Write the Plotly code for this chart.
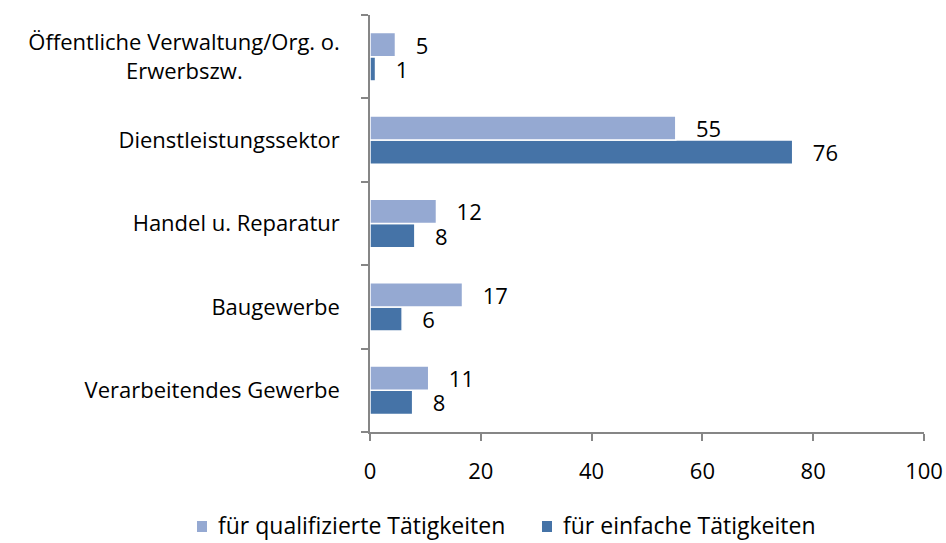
import plotly.graph_objects as go

# Categories listed bottom-to-top
categories = [
    "Verarbeitendes Gewerbe",
    "Baugewerbe",
    "Handel u. Reparatur",
    "Dienstleistungssektor",
    "Öffentliche Verwaltung/Org. o.<br>Erwerbszw." + "\u00a0" * 17,
]
qualifiziert = [10.6, 16.7, 12.0, 55.2, 4.6]
einfach = [7.7, 5.8, 8.1, 76.3, 1.0]

series_names = ["für qualifizierte Tätigkeiten", "für einfache Tätigkeiten"]
colors = ["#95A9D2", "#4573A7"]
x_ticks = [0, 20, 40, 60, 80, 100]

FONT = "Open Sans"
FS = 22
pad = "\u00a0\u00a0\u00a0"

W, H = 946, 543
ML, MR, MT, MB = 370, 22, 15, 111
PW, PH = W - ML - MR, H - MT - MB


def px_x(px):
    return (px - ML) / PW


def px_y(py):
    return (H - MB - py) / PH


fig = go.Figure()
fig.add_trace(go.Bar(
    y=categories, x=einfach, orientation="h", name=series_names[1],
    marker=dict(color=colors[1], line=dict(color="white", width=1.5)),
    text=[f"{pad}{v:.0f}" for v in einfach], textposition="outside",
    textfont=dict(size=FS, color="black", family=FONT), constraintext="none",
    cliponaxis=False, showlegend=False,
))
fig.add_trace(go.Bar(
    y=categories, x=qualifiziert, orientation="h", name=series_names[0],
    marker=dict(color=colors[0], line=dict(color="white", width=1.5)),
    text=[f"{pad}{v:.0f}" for v in qualifiziert], textposition="outside",
    textfont=dict(size=FS, color="black", family=FONT), constraintext="none",
    cliponaxis=False, showlegend=False,
))

# Legend drawn below the plot (squares + labels)
legend_x = [197, 542]
for name, col, lx in zip(series_names, colors, legend_x):
    fig.add_shape(
        type="rect", xref="paper", yref="paper",
        x0=px_x(lx), x1=px_x(lx + 10), y0=px_y(532), y1=px_y(521),
        fillcolor=col, line=dict(width=0),
    )
    fig.add_annotation(
        text=name, xref="paper", yref="paper", x=px_x(lx + 19), y=px_y(525),
        xanchor="left", yanchor="middle", showarrow=False,
        font=dict(size=23, family=FONT, color="black"),
    )

fig.update_layout(
    width=W, height=H,
    margin=dict(l=ML, r=MR, t=MT, b=MB),
    paper_bgcolor="white", plot_bgcolor="white",
    font=dict(family=FONT, size=FS, color="black"),
    barmode="group", bargap=0.42, bargroupgap=0.0,
    showlegend=False,
)
fig.update_xaxes(
    range=[0, 100], tickvals=x_ticks, showgrid=False, zeroline=False,
    showline=True, linecolor="#868686", linewidth=1.5,
    ticks="outside", ticklen=7, tickcolor="#868686", tickwidth=1.5,
    ticklabelstandoff=12, automargin=False,
)
fig.update_yaxes(
    type="category", showgrid=False, showline=True, linecolor="#868686",
    linewidth=1.5, ticks="outside", ticklen=7, tickcolor="#868686",
    tickwidth=1.5, tickson="boundaries", ticklabelstandoff=24, automargin=False,
)

fig.write_html(
    "out.html",
    config={"displayModeBar": False},
    post_script="document.body.style.margin='0px';document.body.style.overflow='hidden';",
)
